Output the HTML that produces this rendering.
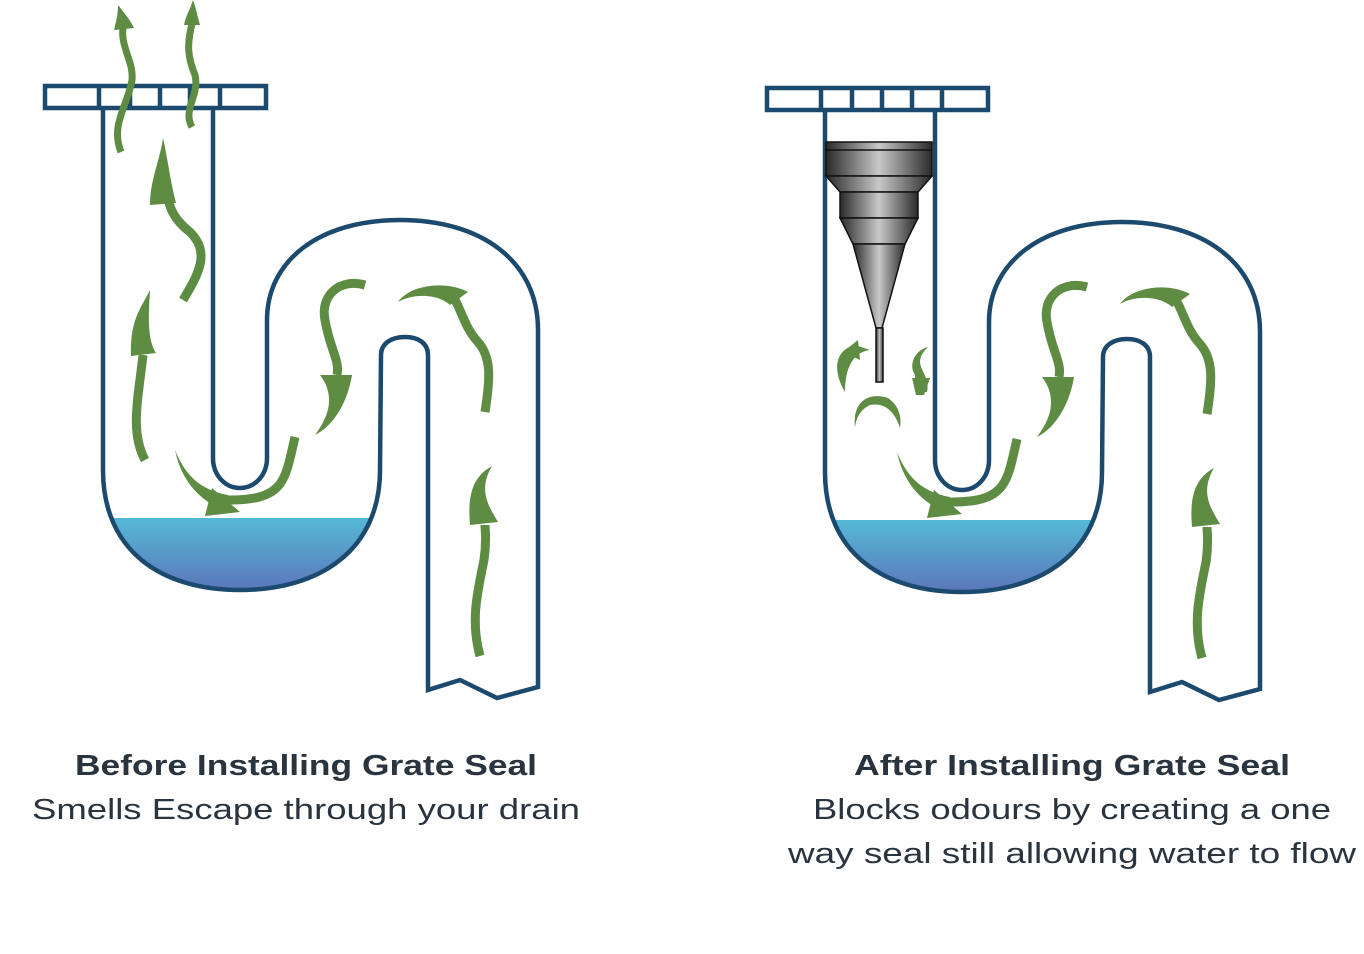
<!DOCTYPE html>
<html><head><meta charset="utf-8"><style>html,body{margin:0;padding:0;background:#fff}svg{display:block}</style></head>
<body>
<svg width="1364" height="954" viewBox="0 0 1364 954" xmlns="http://www.w3.org/2000/svg">
<defs>
<linearGradient id="w" x1="0" y1="0" x2="0" y2="1"><stop offset="0" stop-color="#55b9d6"/><stop offset="1" stop-color="#5c6fb8"/></linearGradient>
<linearGradient id="m" x1="0" y1="0" x2="1" y2="0"><stop offset="0" stop-color="#2a2a2a"/><stop offset="0.5" stop-color="#c8c8c8"/><stop offset="1" stop-color="#2a2a2a"/></linearGradient>
<clipPath id="cp"><path d="M103,108 L103,470 C103,550 160,590 240,590 C320,590 380,550 380,470 L381,108 Z"/></clipPath>
<g id="pipe">
<rect x="100" y="518" width="290" height="80" fill="url(#w)" clip-path="url(#cp)"/>
<path d="M103,108 L103,470 C103,550 160,590 240,590 C320,590 380,550 380,470 L381,355 C381,343 392,337 405,337 C418,337 428,343 428,355 L428,690 L460,680 L497,698 L538,687 L538,330 C538,260 480,220 400,220 C320,220 267,260 267,320 L267,458 C267,475 255,488 240,488 C225,488 213,475 213,458 L213,108" fill="none" stroke="#1c4a6e" stroke-width="4.5" stroke-linejoin="miter"/>
<rect x="45" y="86" width="221" height="22" fill="#fff" stroke="#1c4a6e" stroke-width="4.5"/>
<g stroke="#1c4a6e" stroke-width="4.5"><line x1="99" y1="86" x2="99" y2="108"/><line x1="130" y1="86" x2="130" y2="108"/><line x1="160" y1="86" x2="160" y2="108"/><line x1="190" y1="86" x2="190" y2="108"/><line x1="220" y1="86" x2="220" y2="108"/></g>
</g>
<g id="common" fill="#5e8c43">
<path d="M295,437 C285,480 285,500 230,500 L212,500" fill="none" stroke="#5e8c43" stroke-width="9"/>
<path d="M175,450 C182,485 205,505 230,512 L228,495 C200,490 185,475 175,450 Z"/>
<path d="M212,488 L205,516 L240,512 Z"/>
<path d="M365,285 C340,278 320,295 325,320 C330,350 340,360 337,375" fill="none" stroke="#5e8c43" stroke-width="9"/>
<path d="M320,375 L352,375 C348,400 335,425 315,435 C330,415 335,395 320,375 Z"/>
<path d="M485,412 C490,380 492,358 478,342 C465,328 462,312 455,300" fill="none" stroke="#5e8c43" stroke-width="9"/>
<path d="M398,302 C410,285 445,280 468,292 L450,305 C440,295 415,292 398,302 Z"/>
<path d="M480,656 C470,620 478,590 484,560 C487,540 485,530 485,525" fill="none" stroke="#5e8c43" stroke-width="9"/>
<path d="M470,525 L498,522 C488,505 478,490 492,466 C470,478 468,500 470,525 Z"/>
</g>
</defs>

<use href="#pipe"/>
<use href="#common"/>
<g fill="#5e8c43">
<path d="M121,152 C110,125 128,105 132,80 C134,60 118,45 124,22" fill="none" stroke="#5e8c43" stroke-width="7"/>
<path d="M114,30 L134,28 C130,20 126,15 118,5 C118,15 116,22 114,30 Z"/>
<path d="M192,127 C182,110 200,95 195,75 C188,58 186,45 193,20" fill="none" stroke="#5e8c43" stroke-width="7"/>
<path d="M184,25 L200,25 C197,15 196,8 193,0 C190,10 186,15 184,25 Z"/>
<path d="M183,300 C200,272 210,252 190,232 C172,218 167,205 166,180" fill="none" stroke="#5e8c43" stroke-width="9"/>
<path d="M150,205 L176,203 C170,180 168,160 163,138 C160,160 150,180 150,205 Z"/>
<path d="M145,460 C130,432 138,400 143,355" fill="none" stroke="#5e8c43" stroke-width="9"/>
<path d="M131,356 L156,353 C148,340 148,322 150,290 C140,310 130,320 131,356 Z"/>
</g>

<g transform="translate(722,2)"><use href="#pipe"/><use href="#common"/></g>

<g stroke="#111" stroke-width="1.5" fill="url(#m)">
<rect x="826" y="142" width="106" height="34"/>
<line x1="826" y1="150" x2="932" y2="150"/>
<polygon points="826,176 932,176 918,192 840,192"/>
<rect x="840" y="192" width="78" height="26"/>
<polygon points="840,218 918,218 905,244 853,244"/>
<polygon points="853,244 905,244 882,328 876,328"/>
<rect x="876" y="328" width="7" height="54"/>
</g>
<g fill="#5e8c43">
<path d="M845,392 C832,370 835,350 855,345 L870,350 C855,352 845,365 845,392 Z"/>
<path d="M843,352 L858,340 L860,360 Z"/>
<path d="M855,428 C852,400 870,392 888,398 C898,405 902,415 900,428 C895,412 885,402 870,405 C860,410 856,418 855,428 Z"/>
<path d="M915,392 L927,392 C930,378 920,370 920,362 C920,355 925,350 928,347 C915,350 908,365 915,375 Z"/>
<path d="M912,378 L930,378 L924,395 L916,395 Z"/>
</g>

<g font-family="'Liberation Sans', sans-serif" fill="#29343f" text-anchor="middle">
<text x="306" y="775" font-size="29" font-weight="bold" textLength="462" lengthAdjust="spacingAndGlyphs">Before Installing Grate Seal</text>
<text x="306" y="819" font-size="29" textLength="548" lengthAdjust="spacingAndGlyphs">Smells Escape through your drain</text>
<text x="1072" y="775" font-size="29" font-weight="bold" textLength="436" lengthAdjust="spacingAndGlyphs">After Installing Grate Seal</text>
<text x="1072" y="819" font-size="29" textLength="518" lengthAdjust="spacingAndGlyphs">Blocks odours by creating a one</text>
<text x="1072" y="863" font-size="29" textLength="568" lengthAdjust="spacingAndGlyphs">way seal still allowing water to flow</text>
</g>
</svg>
</body></html>
